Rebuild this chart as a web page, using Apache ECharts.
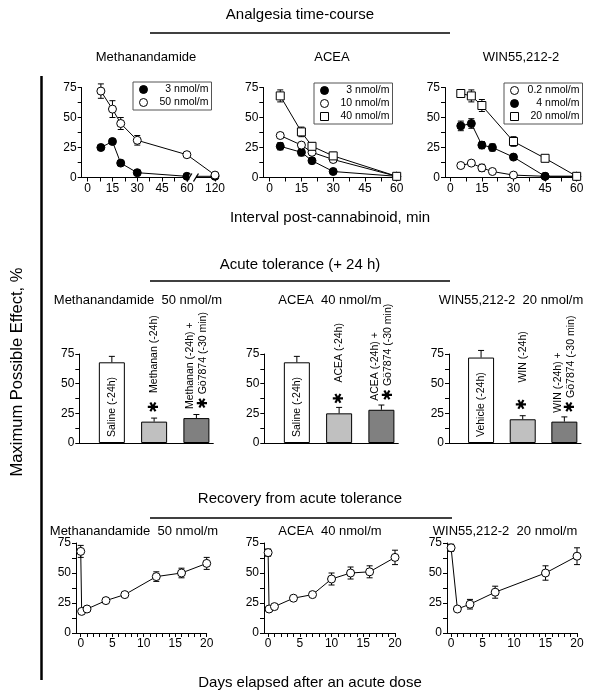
<!DOCTYPE html>
<html>
<head>
<meta charset="utf-8">
<script src="https://cdn.jsdelivr.net/npm/echarts@6/dist/echarts.min.js"></script>
<style>
html, body { margin: 0; padding: 0; background: #fff; }
#main { width: 600px; height: 698px; }
</style>
</head>
<body>
<div id="main"></div>
<script>
var F = 'Arial, "Liberation Sans", Helvetica, sans-serif'

// analgesia time-course (min after injection)
var methTimes = [8, 15, 20, 30, 60, 120]
var meth3 = [25, 30, 12, 4, 1, 1]
var meth50 = [72, 57, 45, 31, 19, 2]
var meth50Err = [6, 7, 5, 4, 0, 0]

var aceaTimes = [5, 15, 20, 30, 60]
var acea3 = [26, 21, 14, 5, 1]
var acea3Err = [3, 3, 2, 1, 0]
var acea10 = [35, 27, 21, 15, 1]
var acea10Err = [2, 2, 2, 2, 0]
var acea40 = [68, 38, 26, 18, 1]
var acea40Err = [5, 4, 3, 3, 0]

var winTimes = [5, 10, 15, 20, 30, 45, 60]
var win02 = [10, 12, 8, 5, 2, 1, 1]
var win02Err = [1, 1, 3, 1, 0, 0, 0]
var win4 = [43, 45, 27, 25, 17, 1, 1]
var win4Err = [4, 4, 3, 3, 2, 0, 0]
var win20Times = [5, 10, 15, 30, 45, 60]
var win20 = [70, 68, 60, 30, 16, 1]
var win20Err = [3, 5, 5, 4, 2, 0]

var timeLabels = [0, 15, 30, 45, 60]
var methTimeLabels = [0, 15, 30, 45, 60, 120]
var effectLabels = [0, 25, 50, 75]

// acute tolerance (+24 h)
var methBarNames = ['Saline (-24h)', 'Methanan (-24h)', 'Methanan (-24h) +\nGö7874 (-30 min)']
var methBars = [68, 18, 21]
var methBarErr = [5, 3, 3]
var aceaBarNames = ['Saline (-24h)', 'ACEA (-24h)', 'ACEA (-24h) +\nGö7874 (-30 min)']
var aceaBars = [68, 25, 28]
var aceaBarErr = [5, 5, 4]
var winBarNames = ['Vehicle (-24h)', 'WIN (-24h)', 'WIN (-24h) +\nGö7874 (-30 min)']
var winBars = [72, 20, 18]
var winBarErr = [6, 3, 4]
var barSignif = [false, true, true]

// recovery (days)
var methDays = [0, 0.15, 1, 4, 7, 12, 16, 20]
var methRec = [68, 18, 20, 27, 32, 47, 50, 58]
var methRecErr = [5, 0, 0, 0, 0, 4, 4, 5]
var aceaDays = [0, 0.15, 1, 4, 7, 10, 13, 16, 20]
var aceaRec = [67, 20, 22, 29, 32, 45, 50, 51, 63]
var aceaRecErr = [3, 0, 0, 0, 0, 5, 5, 5, 6]
var winDays = [0, 1, 3, 7, 15, 20]
var winRec = [71, 20, 24, 34, 50, 64]
var winRecErr = [3, 0, 4, 5, 6, 7]
var dayLabels = [0, 5, 10, 15, 20]

function steps(a, b, s) {
	var r = []
	for (var v = a; v <= b + 1e-9; v += s) r.push(v)
	return r
}

var grids = [], xAxes = [], yAxes = [], series = [], legends = [], graphics = []

function axis(min, max, ticks, labels, showTicks) {
	return {
		type: 'value', min: min, max: max,
		axisLine: {show: true, onZero: false, lineStyle: {color: '#000', width: 1}},
		axisTick: {show: showTicks !== false, length: 4, customValues: ticks, lineStyle: {color: '#000', width: 1}},
		axisLabel: {show: showTicks !== false, color: '#000', fontSize: 12, fontFamily: F, margin: 5, customValues: labels},
		splitLine: {show: false}
	}
}

function panel(box, x, y) {
	var i = grids.length
	grids.push({left: box[0], top: box[1], width: box[2], height: box[3], outerBoundsMode: 'none'})
	x.gridIndex = i
	y.gridIndex = i
	xAxes.push(x)
	yAxes.push(y)
	return i
}

function effectAxis() {
	return axis(0, 75, steps(0, 75, 12.5), effectLabels)
}

function pts(xs, ys) {
	return xs.map(function (x, k) { return [x, ys[k]] })
}

function lineSeries(i, name, xs, ys, symbol, fill) {
	series.push({
		type: 'line', name: name, xAxisIndex: i, yAxisIndex: i, data: pts(xs, ys),
		symbol: symbol, symbolSize: 8, showAllSymbol: true, z: 3,
		itemStyle: {color: fill, borderColor: '#000', borderWidth: 1},
		lineStyle: {color: '#000', width: 1},
		emphasis: {disabled: true}
	})
}

function errSeries(i, xs, ys, es, upOnly, z) {
	var d = xs.map(function (x, k) { return [x, ys[k], es[k]] }).filter(function (p) { return p[2] > 0 })
	series.push({
		type: 'custom', xAxisIndex: i, yAxisIndex: i, z: z, silent: true, data: d,
		renderItem: function (params, api) {
			var x = api.value(0), y = api.value(1), e = api.value(2)
			var hi = api.coord([x, y + e])
			var lo = api.coord([x, upOnly ? y : y - e])
			var w = 3
			var st = {stroke: '#000', lineWidth: 1}
			var kids = [
				{type: 'line', shape: {x1: hi[0], y1: hi[1], x2: lo[0], y2: lo[1]}, style: st},
				{type: 'line', shape: {x1: hi[0] - w, y1: hi[1], x2: hi[0] + w, y2: hi[1]}, style: st}
			]
			if (!upOnly) kids.push({type: 'line', shape: {x1: lo[0] - w, y1: lo[1], x2: lo[0] + w, y2: lo[1]}, style: st})
			return {type: 'group', children: kids}
		}
	})
}

function legend(left, top, items) {
	legends.push({
		left: left, top: top, orient: 'vertical', selectedMode: false,
		data: items.map(function (it) {
			return {name: it[0], icon: it[1], itemStyle: {color: it[2], borderColor: '#000', borderWidth: 1}}
		}),
		formatter: function (n) { return '{t|' + n.split('|')[1] + '}' },
		textStyle: {rich: {t: {width: 56, align: 'right', fontSize: 10.5, fontFamily: F, color: '#000'}}},
		borderColor: '#555', borderWidth: 1, padding: [2, 3, 2, 6], itemGap: 2, itemWidth: 8, itemHeight: 8
	})
}

var barColors = ['#ffffff', '#c0c0c0', '#808080']

function barPanel(i, names, vals, errs, gap) {
	series.push({
		type: 'bar', xAxisIndex: i, yAxisIndex: i, barWidth: 26, z: 2,
		itemStyle: {borderColor: '#000', borderWidth: 1},
		emphasis: {disabled: true},
		data: vals.map(function (v, k) {
			var parts = names[k].split('\n')
			var lab
			if (!barSignif[k]) {
				lab = {show: true, position: 'insideBottom', rotate: 90, align: 'left', verticalAlign: 'middle', distance: 6,
					formatter: names[k], fontSize: 10.5, fontFamily: F, color: '#000'}
			} else {
				var txt = parts.length === 1
					? '{a|✱}{t|' + parts[0] + '}'
					: '{t|' + parts[0] + '}\n{b|✱}{t|' + parts[1] + '}'
				lab = {show: true, position: 'top', rotate: 90, align: 'left', verticalAlign: 'middle', distance: 9,
					formatter: txt, lineHeight: 13,
					rich: {
						a: {fontSize: 14, fontFamily: 'DejaVu Sans', color: '#000', padding: [0, gap, 0, 0]},
						b: {fontSize: 14, fontFamily: 'DejaVu Sans', color: '#000', padding: [0, 3, 0, 0]},
						t: {fontSize: 10.5, fontFamily: F, color: '#000'}
					}}
			}
			return {value: [k + 1, v], itemStyle: {color: barColors[k]}, label: lab}
		})
	})
	errSeries(i, [1, 2, 3], vals, errs, true, 4)
}

// ---- top row
var p0 = panel([81.7, 87.5, 133.3, 90], axis(-3.6, 120, steps(0, 60, 7.5).concat([120]), methTimeLabels), effectAxis())
var methBreak = {start: 62, end: 108, gap: 3}
xAxes[p0].breaks = [methBreak]
xAxes[p0].breakArea = {show: false, expandOnClick: false}
errSeries(p0, methTimes, meth50, meth50Err, false, 1)
lineSeries(p0, 'm3|3 nmol/m', methTimes, meth3, 'circle', '#000')
lineSeries(p0, 'm50|50 nmol/m', methTimes, meth50, 'circle', '#fff')
legend(133, 82, [['m3|3 nmol/m', 'circle', '#000'], ['m50|50 nmol/m', 'circle', '#fff']])

var p1 = panel([263.3, 87.5, 133.4, 90], axis(-3, 60, steps(0, 60, 7.5), timeLabels), effectAxis())
errSeries(p1, aceaTimes, acea3, acea3Err, false, 1)
errSeries(p1, aceaTimes, acea10, acea10Err, false, 1)
errSeries(p1, aceaTimes, acea40, acea40Err, false, 1)
lineSeries(p1, 'a3|3 nmol/m', aceaTimes, acea3, 'circle', '#000')
lineSeries(p1, 'a10|10 nmol/m', aceaTimes, acea10, 'circle', '#fff')
lineSeries(p1, 'a40|40 nmol/m', aceaTimes, acea40, 'rect', '#fff')
legend(314, 83, [['a3|3 nmol/m', 'circle', '#000'], ['a10|10 nmol/m', 'circle', '#fff'], ['a40|40 nmol/m', 'rect', '#fff']])

var p2 = panel([445, 87.5, 131.7, 90], axis(-2.5, 60, steps(0, 60, 7.5), timeLabels), effectAxis())
errSeries(p2, winTimes, win02, win02Err, false, 1)
errSeries(p2, winTimes, win4, win4Err, false, 1)
errSeries(p2, win20Times, win20, win20Err, false, 1)
lineSeries(p2, 'w02|0.2 nmol/m', winTimes, win02, 'circle', '#fff')
lineSeries(p2, 'w4|4 nmol/m', winTimes, win4, 'circle', '#000')
lineSeries(p2, 'w20|20 nmol/m', win20Times, win20, 'rect', '#fff')
legend(504, 83, [['w02|0.2 nmol/m', 'circle', '#fff'], ['w4|4 nmol/m', 'circle', '#000'], ['w20|20 nmol/m', 'rect', '#fff']])

// ---- middle row
var p3 = panel([79.3, 354, 134, 89], axis(0.23, 3.4, [], [], false), effectAxis())
barPanel(p3, methBarNames, methBars, methBarErr, 8)
var p4 = panel([264.3, 354, 134, 89], axis(0.23, 3.4, [], [], false), effectAxis())
barPanel(p4, aceaBarNames, aceaBars, aceaBarErr, 10)
var p5 = panel([449, 354, 132, 89], axis(0.23, 3.4, [], [], false), effectAxis())
barPanel(p5, winBarNames, winBars, winBarErr, 16)

// ---- bottom row
var p6 = panel([76, 543, 130.7, 90], axis(-0.75, 20, steps(0, 20, 1), dayLabels), effectAxis())
errSeries(p6, methDays, methRec, methRecErr, false, 1)
lineSeries(p6, 'mr|Methanandamide', methDays, methRec, 'circle', '#fff')
var p7 = panel([264, 543, 131, 90], axis(-0.65, 20, steps(0, 20, 1), dayLabels), effectAxis())
errSeries(p7, aceaDays, aceaRec, aceaRecErr, false, 1)
lineSeries(p7, 'ar|ACEA', aceaDays, aceaRec, 'circle', '#fff')
var p8 = panel([447, 543, 130, 90], axis(-0.65, 20, steps(0, 20, 1), dayLabels), effectAxis())
errSeries(p8, winDays, winRec, winRecErr, false, 1)
lineSeries(p8, 'wr|WIN55,212-2', winDays, winRec, 'circle', '#fff')

// ---- titles, rules
function text(x, y, s, size, rot) {
	graphics.push({type: 'text', x: x, y: y, rotation: rot || 0, z: 10,
		style: {text: s, font: size + 'px ' + F, fill: '#000', align: 'center', verticalAlign: 'middle'}})
}
function rule(x1, y1, x2, y2, w) {
	graphics.push({type: 'line', z: 10, shape: {x1: x1, y1: y1, x2: x2, y2: y2}, style: {stroke: '#000', lineWidth: w}})
}

text(300, 15, 'Analgesia time-course', 15)
rule(150, 33, 450, 33, 1.5)
text(146, 57, 'Methanandamide', 13)
text(332, 57, 'ACEA', 13)
text(521, 57, 'WIN55,212-2', 13)
text(330, 218, 'Interval post-cannabinoid, min', 15)

text(300, 265, 'Acute tolerance (+ 24 h)', 15)
rule(150, 281, 450, 281, 1.5)
text(138, 300, 'Methanandamide  50 nmol/m', 13)
text(330, 300, 'ACEA  40 nmol/m', 13)
text(511, 300, 'WIN55,212-2  20 nmol/m', 13)

text(300, 499, 'Recovery from acute tolerance', 15)
rule(150, 518, 452, 518, 1.5)
text(134, 531, 'Methanandamide  50 nmol/m', 13)
text(330, 531, 'ACEA  40 nmol/m', 13)
text(505, 531, 'WIN55,212-2  20 nmol/m', 13)
text(310, 683, 'Days elapsed after an acute dose', 15)

text(17, 372, 'Maximum Possible Effect, %', 16.5, Math.PI / 2)
rule(41.5, 76, 41.5, 680, 2.5)

var chart = echarts.init(document.getElementById('main'))
chart.setOption({
	animation: false,
	backgroundColor: '#fff',
	grid: grids,
	xAxis: xAxes,
	yAxis: yAxes,
	legend: legends,
	series: series,
	graphic: graphics
})

// axis break marks "//" on the methanandamide time axis, placed from the axis scale
var conv = function (v) { return chart.convertToPixel({xAxisIndex: p0, yAxisIndex: p0}, [v, 0]) }
var bk = [conv(methBreak.start - 0.5), conv(methBreak.end + 0.5)]
if (!bk[0] || isNaN(bk[0][0]) || isNaN(bk[1][0])) {
	var a = conv(60), b = conv(120)
	bk = [[a[0] + 4, a[1]], [a[0] + 9, a[1]]]
}
graphics.push({type: 'rect', z: 9, shape: {x: bk[0][0], y: bk[0][1] - 3, width: bk[1][0] - bk[0][0], height: 6}, style: {fill: '#fff'}})
bk.forEach(function (p) {
	graphics.push({type: 'line', z: 10, shape: {x1: p[0] - 2.5, y1: p[1] + 4, x2: p[0] + 2.5, y2: p[1] - 4}, style: {stroke: '#000', lineWidth: 1.3}})
})
chart.setOption({graphic: graphics})
</script>
</body>
</html>
